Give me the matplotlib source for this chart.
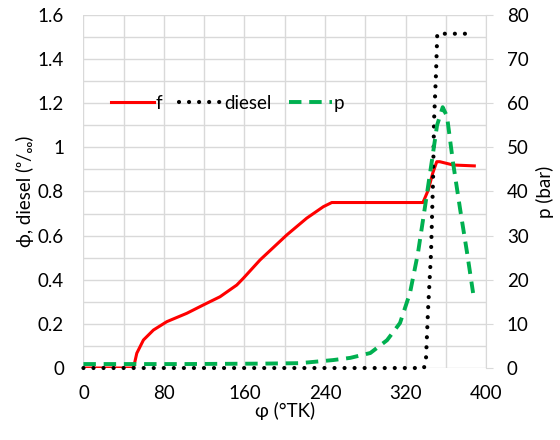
import matplotlib
matplotlib.use("Agg")
import matplotlib.pyplot as plt
import numpy as np

plt.rcParams['font.family'] = ['Lato', 'DejaVu Sans']

# crank angle (deg) and values
phi_f = [0, 49.7, 53, 59.6, 69.5, 82.8, 102.7, 119.2, 135.7, 152.3, 158.9, 175.5, 202, 221.8, 238.3,
         246.7, 337.3, 342.6, 347, 351, 354, 367.4, 388.3]
f = [0, 0, 0.067, 0.127, 0.172, 0.21, 0.248, 0.286, 0.323, 0.376, 0.407, 0.49, 0.603, 0.679, 0.731,
     0.75, 0.75, 0.807, 0.883, 0.935, 0.935, 0.92, 0.916]

phi_d = [0, 338.3, 340.3, 342.3, 345.3, 347.3, 348.3, 350.3, 351.5, 383]
diesel = [0, 0, 0.04, 0.26, 0.52, 0.85, 1.12, 1.34, 1.515, 1.515]

phi_p = [0, 100, 180, 215, 248, 265.1, 285, 301.6, 314.5, 324.4, 332.3, 339.3, 346.2, 351.3, 356.9,
         361.2, 367.2, 374.2, 381.2, 387.1]
p = [0.9, 0.9, 1.0, 1.1, 1.8, 2.3, 3.4, 6.3, 10.2, 17, 26, 36.5, 47, 55, 59.1,
     57, 46.5, 36, 26, 17]

grid_col = '#D9D9D9'
fs = 13.5

fig = plt.figure(figsize=(5.6, 4.4), dpi=100)
ax = fig.add_axes([0.149, 0.1636, 0.719, 0.8024])
ax2 = ax.twinx()

l1, = ax.plot(phi_f, f, color='#FF0000', lw=2.2, label='f', zorder=3)
l2, = ax.plot(phi_d, diesel, color='black', lw=3, linestyle=(0, (0.01, 2.4)),
              dash_capstyle='round', label='diesel', zorder=4, clip_on=False)
l3, = ax2.plot(phi_p, p, color='#00B050', lw=2.8, linestyle=(0, (3.2, 2)), label='p')

ax.set_xlim(0, 400)
ax.set_ylim(0, 1.6)
ax2.set_ylim(0, 80)
ax.set_xticks(np.arange(0, 401, 80))
ax.set_xticks(np.arange(0, 401, 40), minor=True)
ax.set_yticks(np.arange(0, 1.61, 0.2))
ax.set_yticks(np.arange(0, 1.61, 0.1), minor=True)
ax.set_yticklabels(['0', '0.2', '0.4', '0.6', '0.8', '1', '1.2', '1.4', '1.6'])
ax2.set_yticks(np.arange(0, 81, 10))

ax.grid(True, which='both', color=grid_col, lw=1)
ax.set_axisbelow(True)
for s in ax.spines.values():
    s.set_visible(False)
for s in ax2.spines.values():
    s.set_visible(False)
ax2.spines['right'].set_visible(True)
ax2.spines['right'].set_color(grid_col)

ax.tick_params(which='both', length=0, labelsize=fs)
ax.tick_params(axis='x', pad=12)
ax.tick_params(axis='y', pad=14)
ax2.tick_params(axis='y', which='major', length=5, color=grid_col, pad=10, labelsize=fs)

ax.set_xlabel('φ (°TK)', fontsize=fs, labelpad=0)
ax.set_ylabel('ϕ, diesel (ᵒ/ₒₒ)', fontsize=fs, labelpad=3)
ax2.set_ylabel('p (bar)', fontsize=fs, labelpad=5)

ax.legend(handles=[l1, l2, l3], loc='center left', bbox_to_anchor=(0.045, 0.75), ncol=3,
          frameon=False, fontsize=fs, handlelength=2.3, handletextpad=0.1, columnspacing=0.9,
          borderpad=0)

fig.savefig('out.png', dpi=100)
